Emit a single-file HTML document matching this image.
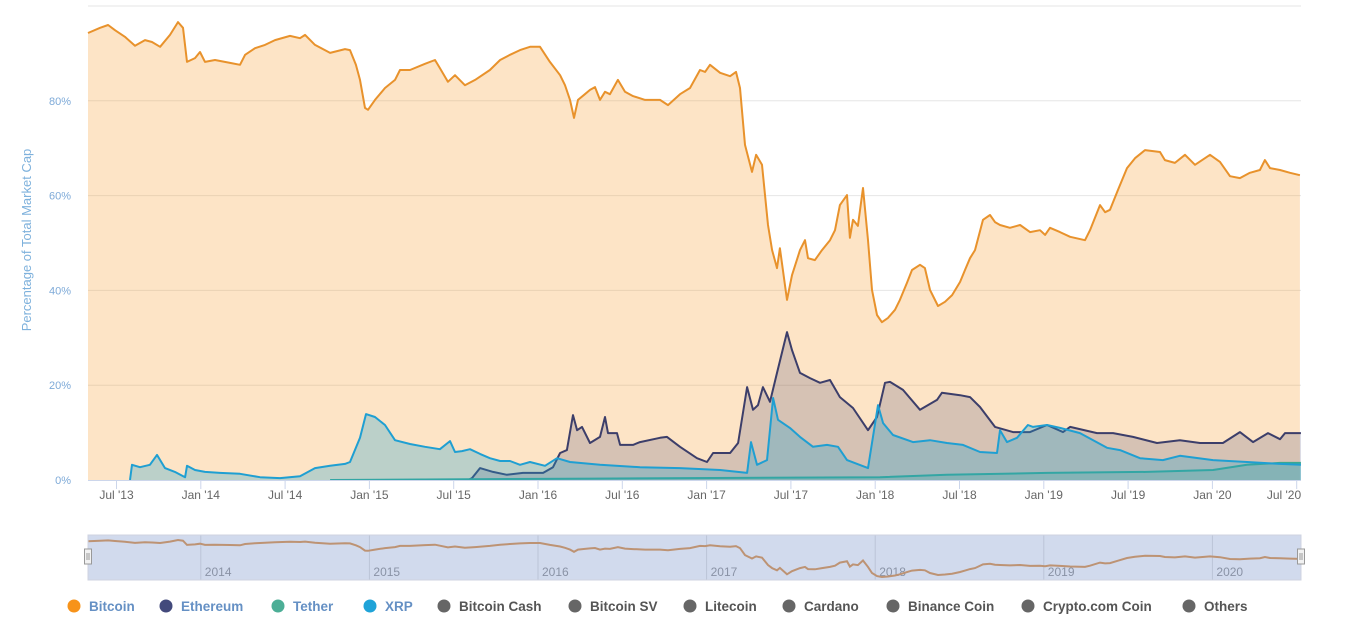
<!DOCTYPE html>
<html><head><meta charset="utf-8"><style>
body{margin:0;background:#fff;}
svg{display:block;font-family:"Liberation Sans",sans-serif;}
</style></head><body>
<svg id="chart" width="1352" height="625" viewBox="0 0 1352 625" xmlns="http://www.w3.org/2000/svg">
<g id="grid"></g>
<g id="series"></g>
<g id="xaxis"></g>
<g id="yaxis"></g>
<text transform="translate(31,240) rotate(-90)" text-anchor="middle" font-size="13" fill="#7eb1dc">Percentage of Total Market Cap</text>
<g id="nav"></g>
<g id="legend"></g>
</svg>
<script>
// months since Jan 2013 (decimal) and percent values
const btcT=[3.97,4.83,5.40,5.89,6.60,7.32,8.03,8.53,9.10,9.81,10.38,10.73,11.02,11.59,11.94,12.30,13.01,14.08,14.79,15.15,15.86,16.57,17.28,18.35,19.06,19.42,20.13,21.20,22.26,22.62,23.04,23.33,23.69,23.90,24.40,25.11,25.82,26.18,26.89,27.96,28.67,29.02,29.59,30.09,30.80,31.52,32.58,33.30,34.01,34.72,35.43,36.14,36.85,37.57,37.92,38.28,38.56,38.85,39.34,39.70,40.06,40.41,40.77,41.12,41.69,42.19,42.76,43.62,44.68,45.25,46.11,46.82,47.53,47.89,48.24,48.96,49.67,50.09,50.38,50.73,51.23,51.52,51.94,52.37,52.66,53.01,53.22,53.72,54.08,54.65,55.00,55.22,55.71,56.21,56.78,57.14,57.49,57.99,58.20,58.42,58.77,59.13,59.49,59.77,60.13,60.48,60.91,61.41,61.76,62.26,62.62,63.19,63.54,63.90,64.47,64.97,65.47,66.04,66.39,66.75,67.10,67.67,68.17,68.53,68.88,69.59,70.31,71.02,71.73,72.09,72.44,73.15,73.87,74.93,75.29,76.00,76.36,76.71,77.28,77.92,78.49,79.20,80.27,80.62,81.33,82.05,82.76,83.83,84.54,85.25,85.96,86.67,87.38,87.74,88.10,88.81,89.52,90.23];
const btcV=[94.3,95.4,96.0,94.9,93.5,91.6,92.8,92.4,91.4,93.9,96.6,95.4,88.2,89.0,90.3,88.2,88.6,88.0,87.6,89.7,91.1,91.8,92.8,93.7,93.2,93.9,91.8,90.1,90.9,90.7,87.6,84.4,78.5,78.1,80.2,82.7,84.4,86.5,86.5,87.8,88.6,86.9,84.0,85.4,83.3,84.4,86.5,88.6,89.7,90.7,91.4,91.4,88.2,85.4,83.3,80.2,76.4,80.2,81.4,82.3,82.9,80.2,81.9,81.4,84.4,81.9,81.0,80.2,80.2,79.1,81.4,82.7,86.5,86.1,87.6,85.9,85.2,86.1,82.7,70.7,65.0,68.6,66.5,53.8,48.5,44.7,48.9,38.0,43.2,48.5,50.6,46.8,46.4,48.5,50.6,52.7,58.0,60.1,51.1,54.9,53.6,61.6,50.6,40.1,34.8,33.3,34.2,35.9,38.0,41.6,44.3,45.4,44.7,40.1,36.7,37.6,39.0,41.8,44.3,46.8,48.5,54.9,55.9,54.4,53.8,53.2,53.8,52.3,52.7,51.7,53.2,52.3,51.3,50.6,52.7,58.0,56.5,57.0,61.2,65.8,67.9,69.6,69.2,67.5,66.9,68.6,66.5,68.6,67.1,64.1,63.7,64.8,65.4,67.5,65.8,65.4,64.8,64.3];
const ethT=[31.02,31.30,31.87,32.80,33.79,34.93,36.36,37.07,37.57,38.06,38.49,38.78,39.13,39.70,40.41,40.77,40.98,41.62,41.84,42.76,43.26,44.68,45.18,46.11,47.32,48.03,48.46,49.67,50.24,50.88,51.30,51.66,52.01,52.51,53.01,53.72,54.08,54.65,55.36,56.07,56.78,57.49,58.42,59.49,60.13,60.70,61.05,61.98,63.19,64.40,64.75,66.04,66.75,67.46,68.53,69.81,71.02,72.23,73.37,73.87,75.79,76.93,78.35,80.06,81.69,83.12,84.75,85.96,86.89,87.96,88.81,89.17,90.30];
const ethV=[0,0.4,2.5,1.7,1.1,1.5,1.5,2.7,5.7,6.3,13.7,10.5,11.2,7.8,9.1,13.3,9.9,9.9,7.4,7.4,8.0,8.9,9.1,7.0,4.6,3.8,5.7,5.7,7.8,19.6,14.8,15.8,19.6,16.5,22.6,31.2,27.4,22.6,21.5,20.5,21.1,17.5,15.2,10.5,13.3,20.5,20.7,19.0,14.8,16.9,18.4,17.9,17.5,15.4,11.2,10.1,10.1,11.6,10.1,11.2,9.9,9.9,9.1,7.8,8.4,7.8,7.8,10.1,8.0,9.9,8.6,9.9,9.9];
const usdtT=[21.2,40.0,60.34,65.11,72.23,79.34,84.04,86.46,88.81,90.30];
const usdtV=[0,0.3,0.6,1.1,1.5,1.7,2.1,3.2,3.6,3.6];
const xrpT=[6.96,7.10,7.67,8.38,8.88,9.45,10.16,10.88,11.02,11.59,12.30,13.37,14.79,16.21,17.64,19.06,20.13,21.20,22.26,22.62,23.33,23.76,24.40,25.11,25.82,26.89,27.96,29.02,29.74,30.09,30.59,31.16,31.87,32.58,33.30,34.01,34.72,35.43,36.50,37.35,38.28,40.41,43.26,46.11,48.96,50.88,51.16,51.59,52.30,52.73,53.08,53.93,54.65,55.57,56.57,57.35,57.99,59.49,60.20,60.56,61.27,62.69,63.90,65.11,66.25,67.46,68.67,68.88,69.38,70.09,70.87,71.23,72.23,73.15,74.58,76.50,77.42,78.85,80.48,81.69,84.04,86.46,88.81,90.30];
const xrpV=[0,3.2,2.7,3.2,5.3,2.5,1.7,0.6,3.0,2.1,1.7,1.5,1.3,0.6,0.4,0.8,2.5,3.0,3.4,3.8,8.9,13.9,13.3,11.6,8.4,7.6,7.0,6.5,8.2,5.9,6.1,6.5,5.5,4.6,4.0,4.0,3.2,3.8,3.0,4.6,3.8,3.2,2.7,2.5,2.1,1.5,8.0,3.2,4.2,17.3,12.7,11.0,9.1,7.0,7.4,7.0,4.2,2.5,15.8,12.0,9.5,8.0,8.4,7.8,7.4,5.9,5.7,10.5,8.0,8.9,11.6,11.2,11.6,11.0,9.9,6.8,6.3,4.6,4.2,5.1,4.2,3.8,3.4,3.2];
const yTicks=[0,20,40,60,80];
const xTickMonths=[6,12,18,24,30,36,42,48,54,60,66,72,78,84,90];
const xTickLabels=["Jul '13","Jan '14","Jul '14","Jan '15","Jul '15","Jan '16","Jul '16","Jan '17","Jul '17","Jan '18","Jul '18","Jan '19","Jul '19","Jan '20","Jul '20"];
const navYears=["2014","2015","2016","2017","2018","2019","2020"];
const navYearMonths=[12,24,36,48,60,72,84];
const legendNames=["Bitcoin","Ethereum","Tether","XRP","Bitcoin Cash","Bitcoin SV","Litecoin","Cardano","Binance Coin","Crypto.com Coin","Others"];

const NS="http://www.w3.org/2000/svg";
const X0=88,X1=1301,Y0=480,PX_PER_PCT=4.74;
const xs=m=>32.2+m*14.05;
const ys=v=>Y0-v*PX_PER_PCT;
function mk(tag,attrs,parent){const e=document.createElementNS(NS,tag);for(const k in attrs)e.setAttribute(k,attrs[k]);parent.appendChild(e);return e;}
const grid=document.getElementById('grid');
[20,40,60,80,100].forEach(v=>{const l=mk('line',{x1:X0,x2:X1,y1:ys(v),y2:ys(v),stroke:'#e6e6e6','stroke-width':1},grid);

});
const yax=document.getElementById('yaxis');
yTicks.forEach(v=>{const t=mk('text',{x:71,y:ys(v)+4,'text-anchor':'end','font-size':11,fill:'#7eaad8'},yax);t.textContent=v+'%';

});

const ser=document.getElementById('series');
function area(T,V,line,fill,w,name,fillOp){
  let d='';T.forEach((t,i)=>{d+=(i?'L':'M')+xs(t).toFixed(1)+','+ys(V[i]).toFixed(1);});
  const a=mk('path',{d:d+'L'+xs(T[T.length-1]).toFixed(1)+','+Y0+'L'+xs(T[0]).toFixed(1)+','+Y0+'Z',fill:fill,'fill-opacity':fillOp,stroke:'none'},ser);
  
  
  const l=mk('path',{d:d,fill:'none',stroke:line,'stroke-width':w,'stroke-linejoin':'round'},ser);
  
  
}
area(btcT,btcV,'#e8922c','#f7931a',2,'bitcoin',0.25);
area(ethT,ethV,'#3c3e6a','#3c3c6e',2,'ethereum',0.2);
area(usdtT,usdtV,'#3aa891','#3aa891',2,'tether',0.25);
area(xrpT,xrpV,'#1f9fd2','#23a1d1',2,'xrp',0.3);

const xax=document.getElementById('xaxis');
const al=mk('line',{x1:X0,x2:X1,y1:Y0+0.5,y2:Y0+0.5,stroke:'#ccd6eb'},xax);


xTickMonths.forEach((m,i)=>{const x=xs(m);
  const tk=mk('line',{x1:x,x2:x,y1:Y0,y2:Y0+9,stroke:'#ccd6eb'},xax);
  
  
  const lx=i===xTickLabels.length-1?Math.min(x,1284):x;
  const t=mk('text',{x:lx,y:499,'text-anchor':'middle','font-size':12,fill:'#666'},xax);t.textContent=xTickLabels[i];
  
  });

// navigator
const nav=document.getElementById('nav');
const NT=535,NB=580;
const bg=mk('rect',{x:X0,y:NT,width:X1-X0,height:NB-NT,fill:'#fff'},nav);


navYearMonths.forEach((m,i)=>{const x=xs(m);
  const gl=mk('line',{x1:x,x2:x,y1:NT,y2:NB,stroke:'#e0e0e0'},nav);
  
  
  const t=mk('text',{x:x+4,y:576,'font-size':12,fill:'#999'},nav);t.textContent=navYears[i];
  
  });
const mn=Math.min(...btcV),mx=Math.max(...btcV);
const ny=v=>NB-3-(v-mn)/(mx-mn)*(NB-NT-8);
let nd='';btcT.forEach((t,i)=>{nd+=(i?'L':'M')+xs(t).toFixed(1)+','+ny(btcV[i]).toFixed(1);});
const nl=mk('path',{d:nd,fill:'none',stroke:'#e39a52','stroke-width':2},nav);


const mask=mk('rect',{x:X0,y:NT,width:X1-X0,height:NB-NT,fill:'rgba(102,133,194,0.3)',stroke:'#cfd3e0'},nav);


[X0,X1].forEach((x,i)=>{
  const h=mk('rect',{x:x-3.5,y:549,width:7,height:15,fill:'#f2f2f2',stroke:'#999'},nav);
  
  
  mk('line',{x1:x-1,x2:x-1,y1:553,y2:560,stroke:'#999'},nav);
  mk('line',{x1:x+1,x2:x+1,y1:553,y2:560,stroke:'#999'},nav);
});

// legend
const leg=document.getElementById('legend');
const legendCircleX=[74,166,278,370,444,575,690,789,893,1028,1189];
const legendColors=['#f7931a','#434a7c','#4cae96','#1fa3d8','#666','#666','#666','#666','#666','#666','#666'];
legendNames.forEach((n,i)=>{
  const g=mk('g',{},leg);
  
  
  mk('circle',{cx:legendCircleX[i],cy:606,r:6.5,fill:legendColors[i]},g);
  const t=mk('text',{x:legendCircleX[i]+15,y:611,'font-size':13.5,'font-weight':'bold',fill:i<4?'#6590c4':'#555'},g);
  t.textContent=n;
});
</script>
</body></html>
